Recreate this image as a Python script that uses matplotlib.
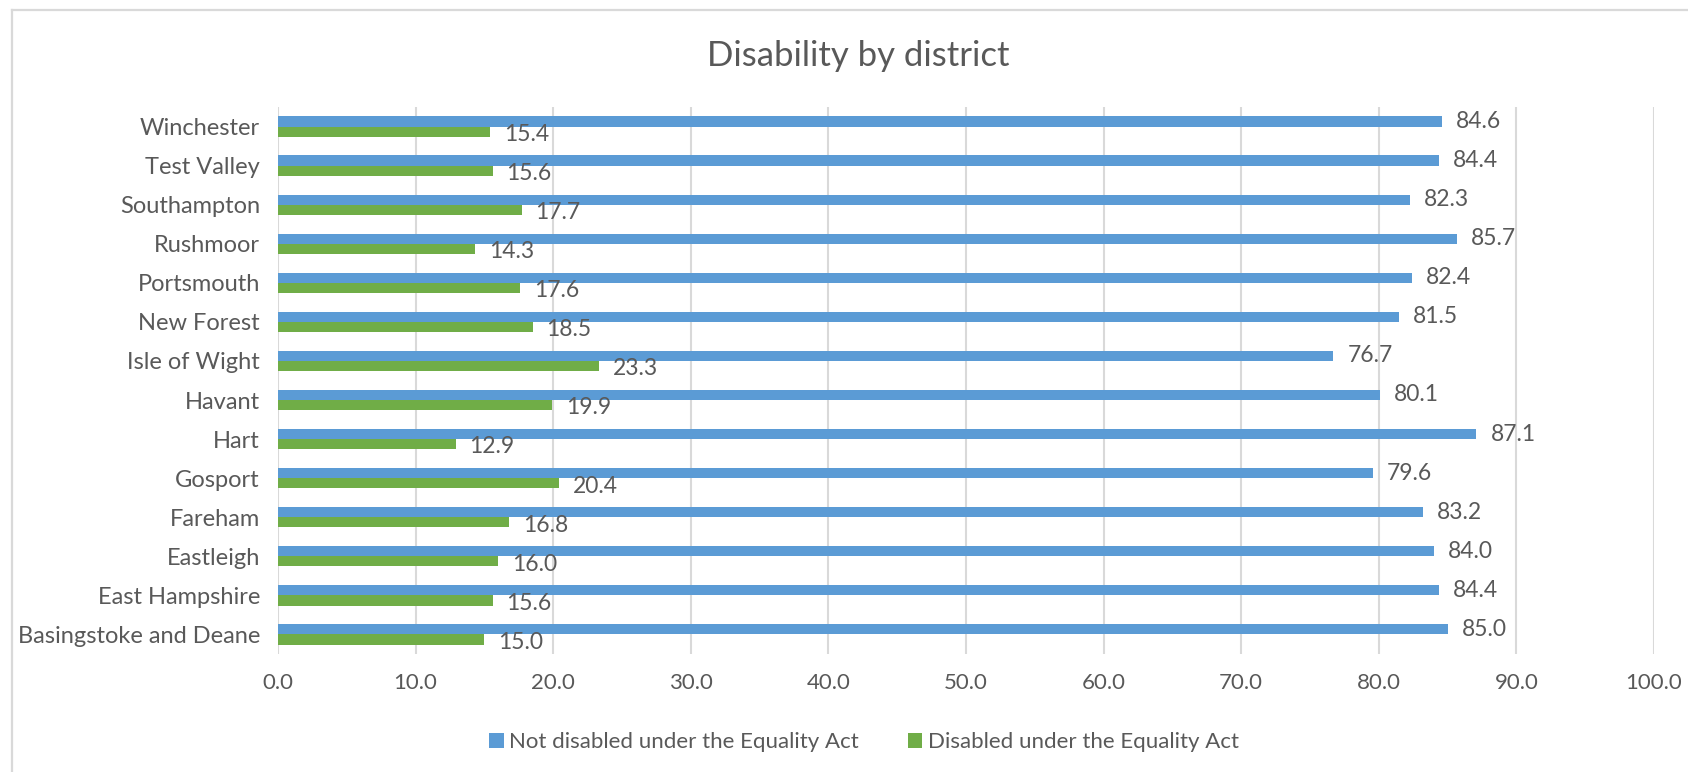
import matplotlib
matplotlib.use("Agg")
import matplotlib.pyplot as plt
from matplotlib.lines import Line2D
from matplotlib.patches import Patch
import numpy as np

plt.rcParams['font.family'] = ['Lato', 'DejaVu Sans']

districts = ["Basingstoke and Deane", "East Hampshire", "Eastleigh", "Fareham", "Gosport",
             "Hart", "Havant", "Isle of Wight", "New Forest", "Portsmouth", "Rushmoor",
             "Southampton", "Test Valley", "Winchester"]
not_disabled = [85.0, 84.4, 84.0, 83.2, 79.6, 87.1, 80.1, 76.7, 81.5, 82.4, 85.7, 82.3, 84.4, 84.6]
disabled = [15.0, 15.6, 16.0, 16.8, 20.4, 12.9, 19.9, 23.3, 18.5, 17.6, 14.3, 17.7, 15.6, 15.4]
xticks = [0, 10, 20, 30, 40, 50, 60, 70, 80, 90, 100]

title = "Disability by district"
series_names = ["Not disabled under the Equality Act", "Disabled under the Equality Act"]

BLUE = "#5B9BD5"
GREEN = "#70AD47"
TEXT = "#595959"
GRID = "#D9D9D9"

W, H = 1688, 772
fig = plt.figure(figsize=(W / 100, H / 100), dpi=100)
fig.patch.set_facecolor("white")

left, right = 278, 1654
top, bottom = 107, 654
ax = fig.add_axes([left / W, 1 - bottom / H, (right - left) / W, (bottom - top) / H])

y = np.arange(len(districts))
h = 0.26
ax.barh(y + h / 2, not_disabled, height=h, color=BLUE, zorder=3)
ax.barh(y - h / 2, disabled, height=h, color=GREEN, zorder=3)

for yi, v in zip(y, not_disabled):
    ax.annotate(f"{v:.1f}", (v, yi + h / 2), xytext=(10, 0), textcoords="offset points",
                va="center", ha="left", fontsize=16.5, color=TEXT)
for yi, v in zip(y, disabled):
    ax.annotate(f"{v:.1f}", (v, yi - h / 2), xytext=(10, -2), textcoords="offset points",
                va="center", ha="left", fontsize=16.5, color=TEXT)

ax.set_xlim(0, 100)
ax.set_ylim(-0.5, len(districts) - 0.5)
ax.set_xticks(xticks)
ax.set_xticklabels([f"{t:.1f}" for t in xticks], fontsize=16, color=TEXT)
ax.set_yticks(y)
ax.set_yticklabels(districts, fontsize=17, color=TEXT)
ax.tick_params(axis="both", length=0)
ax.tick_params(axis="x", pad=14)
ax.tick_params(axis="y", pad=13)
for s in ax.spines.values():
    s.set_visible(False)
ax.xaxis.grid(True, color=GRID, linewidth=1.5, zorder=0)
ax.set_axisbelow(True)

fig.text(858 / W, 1 - 56 / H, title, ha="center", va="center",
         fontsize=25, color=TEXT)

# chart border
fig.add_artist(Line2D([12 / W, 12 / W], [0, 1 - 10 / H], color=GRID, linewidth=1.6,
                      transform=fig.transFigure))
fig.add_artist(Line2D([12 / W, 1], [1 - 10 / H, 1 - 10 / H], color=GRID, linewidth=1.6,
                      transform=fig.transFigure))

handles = [Patch(facecolor=BLUE), Patch(facecolor=GREEN)]
fig.legend(handles, series_names, loc="center", bbox_to_anchor=(864 / W, 1 - 742 / H),
           ncol=2, frameon=False, fontsize=16, labelcolor=TEXT, handlelength=0.65,
           handleheight=0.65, handletextpad=0.25, columnspacing=2.2)

fig.savefig("out.png", dpi=100, facecolor="white")
